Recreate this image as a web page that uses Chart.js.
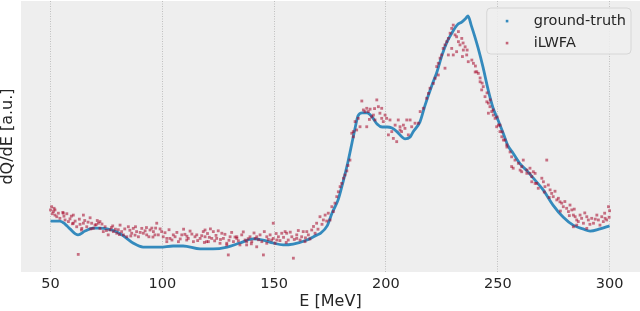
<!DOCTYPE html>
<html><head><meta charset="utf-8">
<script src="https://cdn.jsdelivr.net/npm/chart.js@4/dist/chart.umd.min.js"></script>
<style>html,body{margin:0;padding:0;background:#fff;overflow:hidden}</style>
</head><body>
<canvas id="c" width="640" height="311"></canvas>
<script>
// ---- data ----
const xTicks = [50, 100, 150, 200, 250, 300];
const seriesLabels = ['ground-truth', 'iLWFA'];
const xTitle = 'E [MeV]';
const yTitle = 'dQ/dE [a.u.]';

const truthE = [50, 54.2, 56.5, 58.7, 62.3, 65.4, 69.0, 72.1, 75.3, 79.7, 83.3, 86.9, 91.4, 99.0, 104.8, 109.3, 116.9, 122.7, 129.0, 134.7, 140.6, 145.0, 149.5, 154.0, 158.5, 164.7, 169.2, 170.5, 173.7, 175.9, 178.6, 180.8, 183.0, 184.8, 186.2, 187.5, 189.3, 191.6, 193.8, 196.0, 198.3, 200.5, 202.7, 205.0, 207.2, 208.5, 210.8, 212.1, 215.2, 217.5, 220.6, 222.8, 225.1, 227.3, 229.5, 231.8, 234.0, 235.8, 236.7, 238.1, 239.8, 241.2, 243.4, 245.7, 247.9, 250.1, 252.4, 254.6, 256.8, 260.0, 263.1, 265.8, 270.3, 274.7, 279.2, 283.7, 288.1, 291.3, 295.7, 300];
const truthV = [18.8, 18.8, 17.7, 15.9, 13.7, 15.1, 16.2, 16.2, 15.9, 14.8, 12.9, 10.7, 9.2, 9.2, 9.6, 9.6, 8.5, 8.5, 9.2, 10.7, 12.2, 11.8, 10.7, 10.0, 10.3, 11.8, 13.7, 14.2, 17.0, 21.8, 26.6, 33.2, 40.6, 47.6, 53.1, 57.6, 58.7, 58.7, 57.2, 54.6, 53.5, 53.5, 53.1, 51.7, 49.8, 49.1, 49.8, 51.7, 55.4, 61.6, 69.0, 73.8, 80.1, 84.9, 88.2, 91.1, 92.3, 93.7, 94.5, 91.1, 86.7, 82.7, 75.6, 67.2, 60.5, 56.1, 51.3, 46.5, 43.9, 39.9, 37.3, 34.7, 30.3, 24.7, 20.3, 17.3, 15.9, 15.1, 15.9, 17.0];

const lwfaE = [50.5, 51.6, 50.0, 51.3, 52.0, 53.5, 55.5, 54.2, 56.5, 58.0, 58.7, 60.2, 61.0, 61.7, 63.2, 64.0, 64.7, 66.2, 67.7, 68.4, 69.9, 71.4, 72.1, 73.6, 74.4, 75.8, 76.6, 78.1, 79.6, 81.1, 81.8, 82.6, 84.1, 84.8, 86.3, 87.0, 88.5, 89.3, 90.8, 91.5, 93.0, 94.5, 96.0, 97.5, 98.2, 62.4, 64.7, 69.1,
  50.8, 52.0, 52.8, 55.7, 59.3, 60.2, 65.3, 70.4, 72.1, 77.2, 80.3, 85.5, 87.8, 92.3, 95.3, 102.0, 104.9, 110.9, 115.4, 119.8, 124.3, 128.8, 133.3, 137.7, 142.2, 146.7, 151.2, 155.6, 160.1, 164.6, 129.5, 145.2, 158.6, 149.6,
  96.7, 99.7, 100.4, 102.0, 103.4, 105.7, 107.2, 108.7, 110.1, 111.6, 112.4, 113.9, 114.6, 116.9, 118.3, 119.1, 120.6, 122.1, 122.8, 124.0, 125.8, 126.6, 127.3, 128.8, 130.3, 131.8, 133.3, 134.7, 135.5, 137.0, 137.7, 139.2, 140.0, 141.5, 142.2, 143.7, 144.5, 146.7, 148.2, 149.6, 119.1, 121.5,
  148.9, 150.4, 151.9, 153.4, 154.9, 156.3, 157.9, 160.1, 161.6, 163.0, 163.8, 165.3, 166.8, 168.3, 169.0, 170.5, 172.0, 172.8, 174.2, 175.0, 175.8, 176.5, 177.2, 178.0, 178.7, 179.5, 180.2, 181.7, 182.5,
  181.0, 183.0, 183.9, 184.7, 185.4, 186.9, 186.2, 187.6, 188.4, 189.2, 189.9, 191.4, 192.1, 192.9, 191.4, 193.6, 194.4, 195.1, 195.9, 196.6, 197.3, 198.1, 198.8, 200.3, 201.1, 202.6, 203.3, 204.8, 205.5, 207.0, 207.8, 209.3, 210.0, 190.6, 192.6, 194.9, 198.1, 199.6, 201.8, 204.1, 206.3, 208.5, 210.8, 185.4,
  206.3, 211.5, 213.0, 214.5, 215.3, 216.7, 218.2, 219.0, 219.7, 221.2, 222.0, 222.7, 223.4, 224.2, 224.9, 225.6, 226.4, 227.2, 227.9, 228.7, 229.4, 230.1, 230.9, 231.6, 232.4, 233.1, 233.9, 234.6, 235.4, 236.1, 236.8, 238.4, 239.1, 223.4, 226.4, 227.9, 229.4, 230.1, 231.6, 232.4, 234.2,
  234.5, 236.3, 239.9, 242.1, 243.0, 245.2, 246.6, 247.9, 249.7, 251.0, 251.9, 253.2, 254.1, 255.5,
  240.0, 240.6, 241.3, 242.1, 243.5, 242.8, 244.3, 245.1, 245.8, 246.5, 247.3, 245.8, 248.0, 248.8, 249.5, 250.3, 251.0, 251.8, 252.5, 254.0, 256.2, 257.7, 259.2, 261.4, 260.7, 263.0, 264.4, 265.9, 265.2, 266.7, 256.9, 260.0, 256.2,
  260.7, 263.0, 264.4, 265.2, 266.7, 267.4, 268.1, 269.7, 270.4, 271.1, 271.9, 272.6, 273.4, 274.1, 274.8, 276.4, 277.1, 277.8, 278.6, 279.3, 280.8, 281.6, 282.3, 283.1, 283.8, 284.6, 285.3, 286.8, 287.5, 288.3, 289.8, 290.5, 292.0, 292.8, 294.3, 295.0, 296.5, 297.2, 298.0, 298.7, 299.5, 283.8, 289.8, 285.3,
  101.2, 103.0, 104.3, 106.5, 108.0, 109.5, 111.0, 113.2, 115.8, 117.6, 118.8, 120.2, 121.0, 123.4, 125.0, 126.0, 128.0, 129.8, 131.0, 132.5, 134.0, 136.2, 138.4, 139.8, 141.0, 143.0, 145.6, 147.4, 150.9, 152.6, 154.2, 155.4, 157.2, 159.0, 160.8, 162.3, 164.0, 166.0, 167.6, 169.6, 171.4, 173.5,
  56.0, 57.3, 59.8, 62.9, 63.8, 66.8, 68.0, 70.9, 73.0, 75.0, 77.8, 79.0, 80.8, 83.2, 85.9, 88.0, 90.1, 92.9, 94.0, 95.8, 97.0, 99.0,
  270.8, 273.0, 275.6, 278.0, 280.0, 282.0, 284.2, 286.0, 288.9, 291.2, 293.6, 295.7, 297.8, 299.8, 300.0];
const lwfaV = [24.1, 23.5, 22.9, 22.3, 21.0, 21.7, 22.0, 19.8, 19.2, 18.6, 19.6, 18.0, 18.8, 16.7, 17.6, 16.1, 18.0, 16.7, 20.0, 18.0, 17.3, 18.0, 16.1, 14.9, 16.7, 13.7, 15.5, 14.9, 14.3, 17.3, 14.9, 13.7, 13.0, 16.7, 14.3, 16.1, 14.9, 13.0, 16.1, 14.3, 13.7, 15.5, 14.9, 18.0, 13.7, 6.5, 21.0, 16.1,
  21.5, 22.9, 20.4, 21.7, 20.6, 21.0, 19.0, 17.5, 18.6, 16.4, 15.6, 15.4, 13.6, 15.2, 16.2, 12.4, 13.7, 11.8, 13.7, 11.2, 12.4, 10.6, 13.0, 11.2, 13.0, 10.6, 11.8, 14.3, 12.4, 14.9, 6.3, 6.3, 5.1, 18.0,
  13.7, 14.9, 13.0, 11.2, 12.4, 13.0, 11.2, 13.7, 13.9, 12.4, 15.1, 11.2, 13.0, 12.4, 14.9, 13.0, 11.2, 12.4, 14.9, 13.5, 10.6, 14.3, 12.4, 10.0, 13.0, 11.2, 12.4, 10.0, 13.7, 11.8, 10.0, 13.0, 11.2, 12.4, 9.3, 13.7, 11.2, 13.0, 13.7, 12.4, 15.5, 15.9,
  11.8, 10.6, 13.0, 14.3, 14.9, 11.8, 13.0, 13.7, 11.8, 14.9, 11.2, 13.7, 15.5, 14.3, 18.0, 20.4, 19.2, 21.0, 21.7, 19.2, 24.1, 22.3, 25.4, 27.8, 29.6, 31.5, 32.7, 35.8, 37.3,
  34.6, 39.3, 41.3, 51.2, 51.8, 52.4, 55.5, 56.7, 53.6, 63.1, 59.8, 60.4, 59.2, 60.1, 53.6, 57.3, 57.9, 56.1, 63.5, 61.0, 58.6, 56.7, 55.5, 56.7, 50.6, 51.8, 49.3, 48.1, 56.1, 51.8, 54.2, 56.1, 50.6, 59.2, 56.3, 60.3, 60.4, 57.9, 56.1, 54.2, 53.6, 53.0, 56.1, 49.9,
  52.4, 53.6, 54.9, 54.9, 59.2, 60.4, 64.1, 65.9, 67.8, 69.6, 71.5, 75.8, 77.0, 78.9, 80.1, 82.5, 83.8, 85.0, 86.2, 88.1, 89.9, 91.1, 87.5, 86.8, 85.0, 83.8, 86.2, 81.9, 83.1, 80.1, 77.6, 78.2, 77.0, 72.7, 75.2, 80.1, 82.5, 80.1, 81.3, 88.7, 79.5,
  84.5, 81.9, 73.8, 71.6, 69.7, 66.1, 63.5, 59.8, 57.2, 54.2, 51.7, 48.7, 46.1, 44.3,
  76.0, 73.9, 73.3, 70.2, 68.4, 67.2, 64.7, 62.8, 62.3, 61.0, 59.2, 58.6, 57.9, 56.7, 53.6, 54.2, 51.8, 49.9, 48.7, 46.9, 42.5, 41.3, 40.1, 41.3, 38.9, 37.6, 36.4, 37.0, 33.3, 32.7, 38.3, 37.6, 38.9,
  37.0, 36.4, 38.3, 35.2, 36.4, 32.7, 30.9, 34.6, 33.3, 31.5, 41.3, 32.1, 30.3, 29.0, 27.8, 26.6, 27.2, 25.9, 25.4, 24.1, 23.5, 22.3, 24.7, 22.9, 21.0, 20.4, 19.2, 21.0, 19.8, 18.0, 20.4, 19.2, 19.8, 18.0, 21.0, 19.2, 20.4, 18.6, 19.8, 19.2, 24.1, 16.7, 16.1, 17.3,
  14.5, 15.6, 11.8, 14.6, 12.2, 15.8, 13.2, 14.0, 11.6, 13.4, 10.9, 14.2, 12.8, 11.5, 15.2, 12.0, 13.9, 11.7, 14.6, 12.9, 11.5, 14.8, 12.3, 10.4, 14.4, 11.9, 14.9, 12.0, 14.2, 11.6, 12.8, 10.9, 14.7, 12.0, 15.3, 13.0, 12.6, 12.2, 16.8, 15.8, 17.6, 18.8,
  20.6, 21.5, 17.8, 19.5, 15.5, 18.4, 15.9, 19.0, 17.7, 15.3, 17.0, 15.8, 13.8, 15.9, 13.3, 16.7, 14.6, 16.4, 13.0, 12.9, 16.2, 15.9,
  29.5, 27.5, 29.8, 22.5, 26.0, 20.8, 23.2, 18.6, 21.8, 17.6, 19.5, 17.3, 21.7, 20.2, 22.6];

// ---- chart ----
const FONT = 'DejaVu Sans';
const TXT = '#262626';
const truthColor = '#348ABD';
const lwfaColor = 'rgba(166,6,40,0.55)';

const bgPlugin = {
  id: 'bg',
  beforeDraw(chart) {
    const {ctx, chartArea: a} = chart;
    ctx.save();
    ctx.fillStyle = '#eeeeee';
    ctx.fillRect(a.left, a.top, a.right - a.left, a.bottom - a.top);
    ctx.restore();
  }
};

const legendPlugin = {
  id: 'boxLegend',
  afterDatasetsDraw(chart) {
    const {ctx, chartArea: a} = chart;
    ctx.save();
    ctx.font = '14.5px "' + FONT + '"';
    const ds = chart.data.datasets.slice().sort((p, q) => p.legendIndex - q.legendIndex);
    const tw = Math.max(...ds.map(d => ctx.measureText(d.label).width));
    const w = tw + 52, h = 46;
    const x = a.right - 9 - w, y = a.top + 7;
    ctx.beginPath();
    ctx.roundRect(x, y, w, h, 4);
    ctx.fillStyle = 'rgba(238,238,238,0.85)';
    ctx.fill();
    ctx.strokeStyle = '#d6d6d6';
    ctx.lineWidth = 1;
    ctx.stroke();
    ds.forEach((d, i) => {
      const cy = y + 13 + i * 22;
      ctx.fillStyle = d.legendColor;
      ctx.fillRect(x + 19, cy - 1.2, 2.6, 2.6);
      ctx.fillStyle = TXT;
      ctx.textBaseline = 'middle';
      ctx.textAlign = 'left';
      ctx.fillText(d.label, x + 47, cy);
    });
    ctx.restore();
  }
};

const truthData = truthE.map((e, i) => ({x: e, y: truthV[i]}));
const lwfaData = lwfaE.map((e, i) => ({x: e, y: lwfaV[i]}));

new Chart(document.getElementById('c'), {
  type: 'scatter',
  data: {
    datasets: [
      {label: seriesLabels[0], data: truthData, order: 2, legendIndex: 0, legendColor: truthColor,
       showLine: true, borderColor: truthColor, borderWidth: 2.8, pointRadius: 0, pointHoverRadius: 0, cubicInterpolationMode: 'monotone', backgroundColor: truthColor},
      {label: seriesLabels[1], data: lwfaData, order: 1, legendIndex: 1, legendColor: 'rgba(166,6,40,0.6)',
       pointStyle: 'rect', pointRadius: 2, borderWidth: 0, backgroundColor: lwfaColor, borderColor: lwfaColor}
    ]
  },
  options: {
    responsive: false,
    animation: false,
    devicePixelRatio: 1,
    layout: {autoPadding: false, padding: {top: 1, right: 0, left: 0, bottom: 0}},
    plugins: {legend: {display: false}, tooltip: {enabled: false}},
    scales: {
      x: {
        type: 'linear', min: 36.8, max: 313.6,
        afterBuildTicks: s => { s.ticks = xTicks.map(v => ({value: v})); },
        afterFit: s => { s.height = 39; s.paddingLeft = 0; s.paddingRight = 0; },
        grid: {color: '#b2b2b2', lineWidth: 0.8, drawTicks: false},
        border: {display: false, dash: [1, 1.5]},
        ticks: {font: {family: FONT, size: 14.5}, color: TXT, padding: 4, maxRotation: 0},
        title: {display: true, text: xTitle, font: {family: FONT, size: 16}, color: TXT, padding: 0}
      },
      y: {
        type: 'linear', min: 0, max: 100,
        afterFit: s => { s.width = 21; s.paddingTop = 0; s.paddingBottom = 0; },
        grid: {display: false},
        border: {display: false},
        ticks: {display: false},
        title: {display: true, text: yTitle, font: {family: FONT, size: 16}, color: TXT, padding: {top: -1.5, bottom: 0}}
      }
    }
  },
  plugins: [bgPlugin, legendPlugin]
});
</script>
</body></html>
